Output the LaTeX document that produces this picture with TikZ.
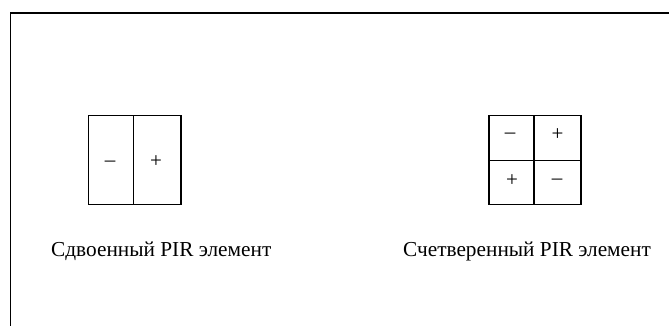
\documentclass[tikz,border=0pt]{standalone}
\usepackage{fontspec}
\setmainfont{Liberation Serif}
\begin{document}
\begin{tikzpicture}[x=1pt,y=-1pt,
  cellline/.style={line width=1.6pt, line cap=rect},
  frameline/.style={line width=1.6pt},
  sign/.style={inner sep=0pt, font=\fontsize{21}{24}\selectfont},
  caption/.style={inner sep=0pt, anchor=base west, font=\fontsize{21.3}{25}\selectfont}]
  \useasboundingbox (0,0) rectangle (669,325);
  % outer frame (open to the right and bottom)
  \coordinate (fbl) at (10.5,326);
  \coordinate (ftl) at (10.5,13);
  \coordinate (ftr) at (670,13);
  \draw[frameline] (fbl) -- (ftl) -- (ftr);

  % dual PIR element
  \coordinate (dA) at (88.5,115.5);
  \coordinate (dB) at (180.8,204.5);
  \coordinate (dT) at (133.5,115.5);
  \coordinate (dM) at (133.5,204.5);
  \draw[cellline] (dA) rectangle (dB);
  \draw[cellline] (dT) -- (dM);
  \node[sign] (dminus) at (110,164) {–};
  \node[sign] (dplus) at (156,162) {+};
  \node[caption] (dcap) at (51,256) {Сдвоенный PIR элемент};

  % quad PIR element
  \coordinate (qA) at (489,115.5);
  \coordinate (qB) at (581,204.5);
  \coordinate (qT) at (534,115.5);
  \coordinate (qM) at (534,204.5);
  \coordinate (qL) at (489,160.5);
  \coordinate (qR) at (581,160.5);
  \draw[cellline] (qA) rectangle (qB);
  \draw[cellline] (qT) -- (qM);
  \draw[cellline] (qL) -- (qR);
  \node[sign] (qminus1) at (510,136) {–};
  \node[sign] (qplus1) at (557.5,134.5) {+};
  \node[sign] (qplus2) at (512,180.5) {+};
  \node[sign] (qminus2) at (557,182) {–};
  \node[caption] (qcap) at (403,256) {Счетверенный PIR элемент};
\end{tikzpicture}
\end{document}
